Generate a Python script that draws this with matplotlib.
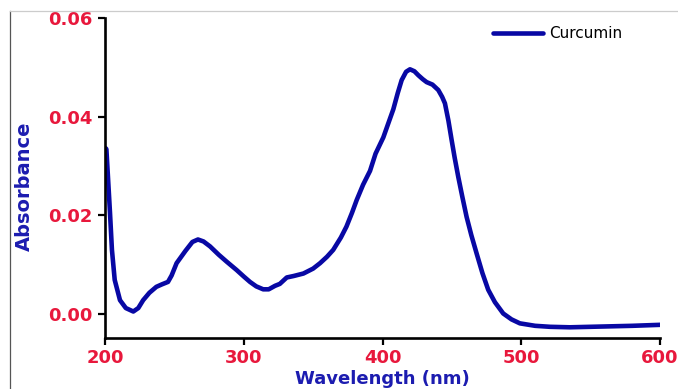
import matplotlib
matplotlib.use("Agg")
import matplotlib.pyplot as plt
from matplotlib.lines import Line2D

# UV-Vis spectrum of curcumin
wavelength = [200.5, 201, 203.6, 205, 207, 210.8, 215, 220.4, 224, 227.5,
              232, 237, 241, 245.4, 248, 251.6, 258, 263, 267, 271,
              275.7, 282, 287.7, 294.9, 300, 304.5, 309, 314, 318, 322.5,
              326, 331, 336, 343, 350, 355, 360, 364.5, 370, 374,
              378, 381.4, 386, 391, 395, 400.6, 404, 407.8, 411, 413.8,
              417, 419.8, 423, 425.8, 429, 431.8, 436, 440.2, 443, 445,
              447.5, 449.8, 452, 454.6, 457.5, 460.6, 464, 467.8, 472, 476.2,
              481, 487, 493, 499, 510, 520.7, 535, 550, 565, 580,
              590, 600]
absorbance = [0.0336, 0.0334, 0.0205, 0.0130, 0.0069, 0.0028, 0.0012, 0.0005, 0.0012, 0.0028,
              0.0043, 0.0055, 0.0060, 0.0065, 0.0078, 0.0103, 0.0128, 0.0146, 0.0151, 0.0147,
              0.0137, 0.0120, 0.0106, 0.0089, 0.0076, 0.0065, 0.0056, 0.0050, 0.0050, 0.0057,
              0.0061, 0.0074, 0.0077, 0.0082, 0.0092, 0.0103, 0.0116, 0.0130, 0.0155, 0.0177,
              0.0205, 0.0231, 0.0262, 0.0290, 0.0325, 0.0358, 0.0385, 0.0415, 0.0448, 0.0474,
              0.0491, 0.0496, 0.0492, 0.0484, 0.0476, 0.0470, 0.0465, 0.0454, 0.0440, 0.0427,
              0.0392, 0.0353, 0.0317, 0.0278, 0.0238, 0.0197, 0.0160, 0.0123, 0.0083, 0.0049,
              0.0024, 0.0001, -0.0011, -0.0019, -0.0024, -0.0026, -0.0027, -0.0026, -0.0025, -0.0024,
              -0.0023, -0.0022]

xticks = [200, 300, 400, 500, 600]
yticks = [0.00, 0.02, 0.04, 0.06]

line_col = "#0808a4"
tick_col = "#e8183c"
label_col = "#1c1cb0"

plt.rcParams["font.family"] = ["DejaVu Sans"]

fig = plt.figure(figsize=(6.78, 3.89), dpi=100)
ax = fig.add_axes([105 / 678, 1 - 338 / 389, (660 - 105) / 678, (338 - 18) / 389])

ax.plot(wavelength, absorbance, color=line_col, lw=3.3, label="Curcumin",
        solid_capstyle="round", solid_joinstyle="round")

ax.set_xlim(200, 600)
ax.set_ylim(-0.00487, 0.06)
ax.set_xticks(xticks)
ax.set_xticklabels([str(t) for t in xticks])
ax.set_yticks(yticks)
ax.set_yticklabels(["%.2f" % t for t in yticks])

for s in ["top", "right"]:
    ax.spines[s].set_visible(False)
for s in ["left", "bottom"]:
    ax.spines[s].set_linewidth(1.9)
    ax.spines[s].set_color("black")

ax.tick_params(axis="both", direction="out", length=5, width=1.6, color="black",
               labelsize=13, labelcolor=tick_col, pad=3)
ax.tick_params(axis="y", pad=4)
for lab in ax.get_xticklabels() + ax.get_yticklabels():
    lab.set_fontweight("bold")

ax.set_xlabel("Wavelength (nm)", fontsize=13, fontweight="bold", color=label_col, labelpad=2)
ax.set_ylabel("Absorbance", fontsize=14, fontweight="bold", color=label_col)
ax.yaxis.set_label_coords(-0.128, 0.475)

leg = ax.legend(loc="center left", bbox_to_anchor=(493 / 678, 1 - 34 / 389),
                bbox_transform=fig.transFigure, frameon=False, fontsize=11,
                handlelength=3.3, handletextpad=0.35, borderpad=0, borderaxespad=0)

# frame of the original image
fig.add_artist(Line2D([10 / 678, 10 / 678], [0, 1 - 11 / 389], transform=fig.transFigure,
                      color="#555555", lw=0.9))
fig.add_artist(Line2D([10 / 678, 1], [1 - 11 / 389, 1 - 11 / 389], transform=fig.transFigure,
                      color="#cccccc", lw=0.9))

fig.savefig("out.png", dpi=100)
